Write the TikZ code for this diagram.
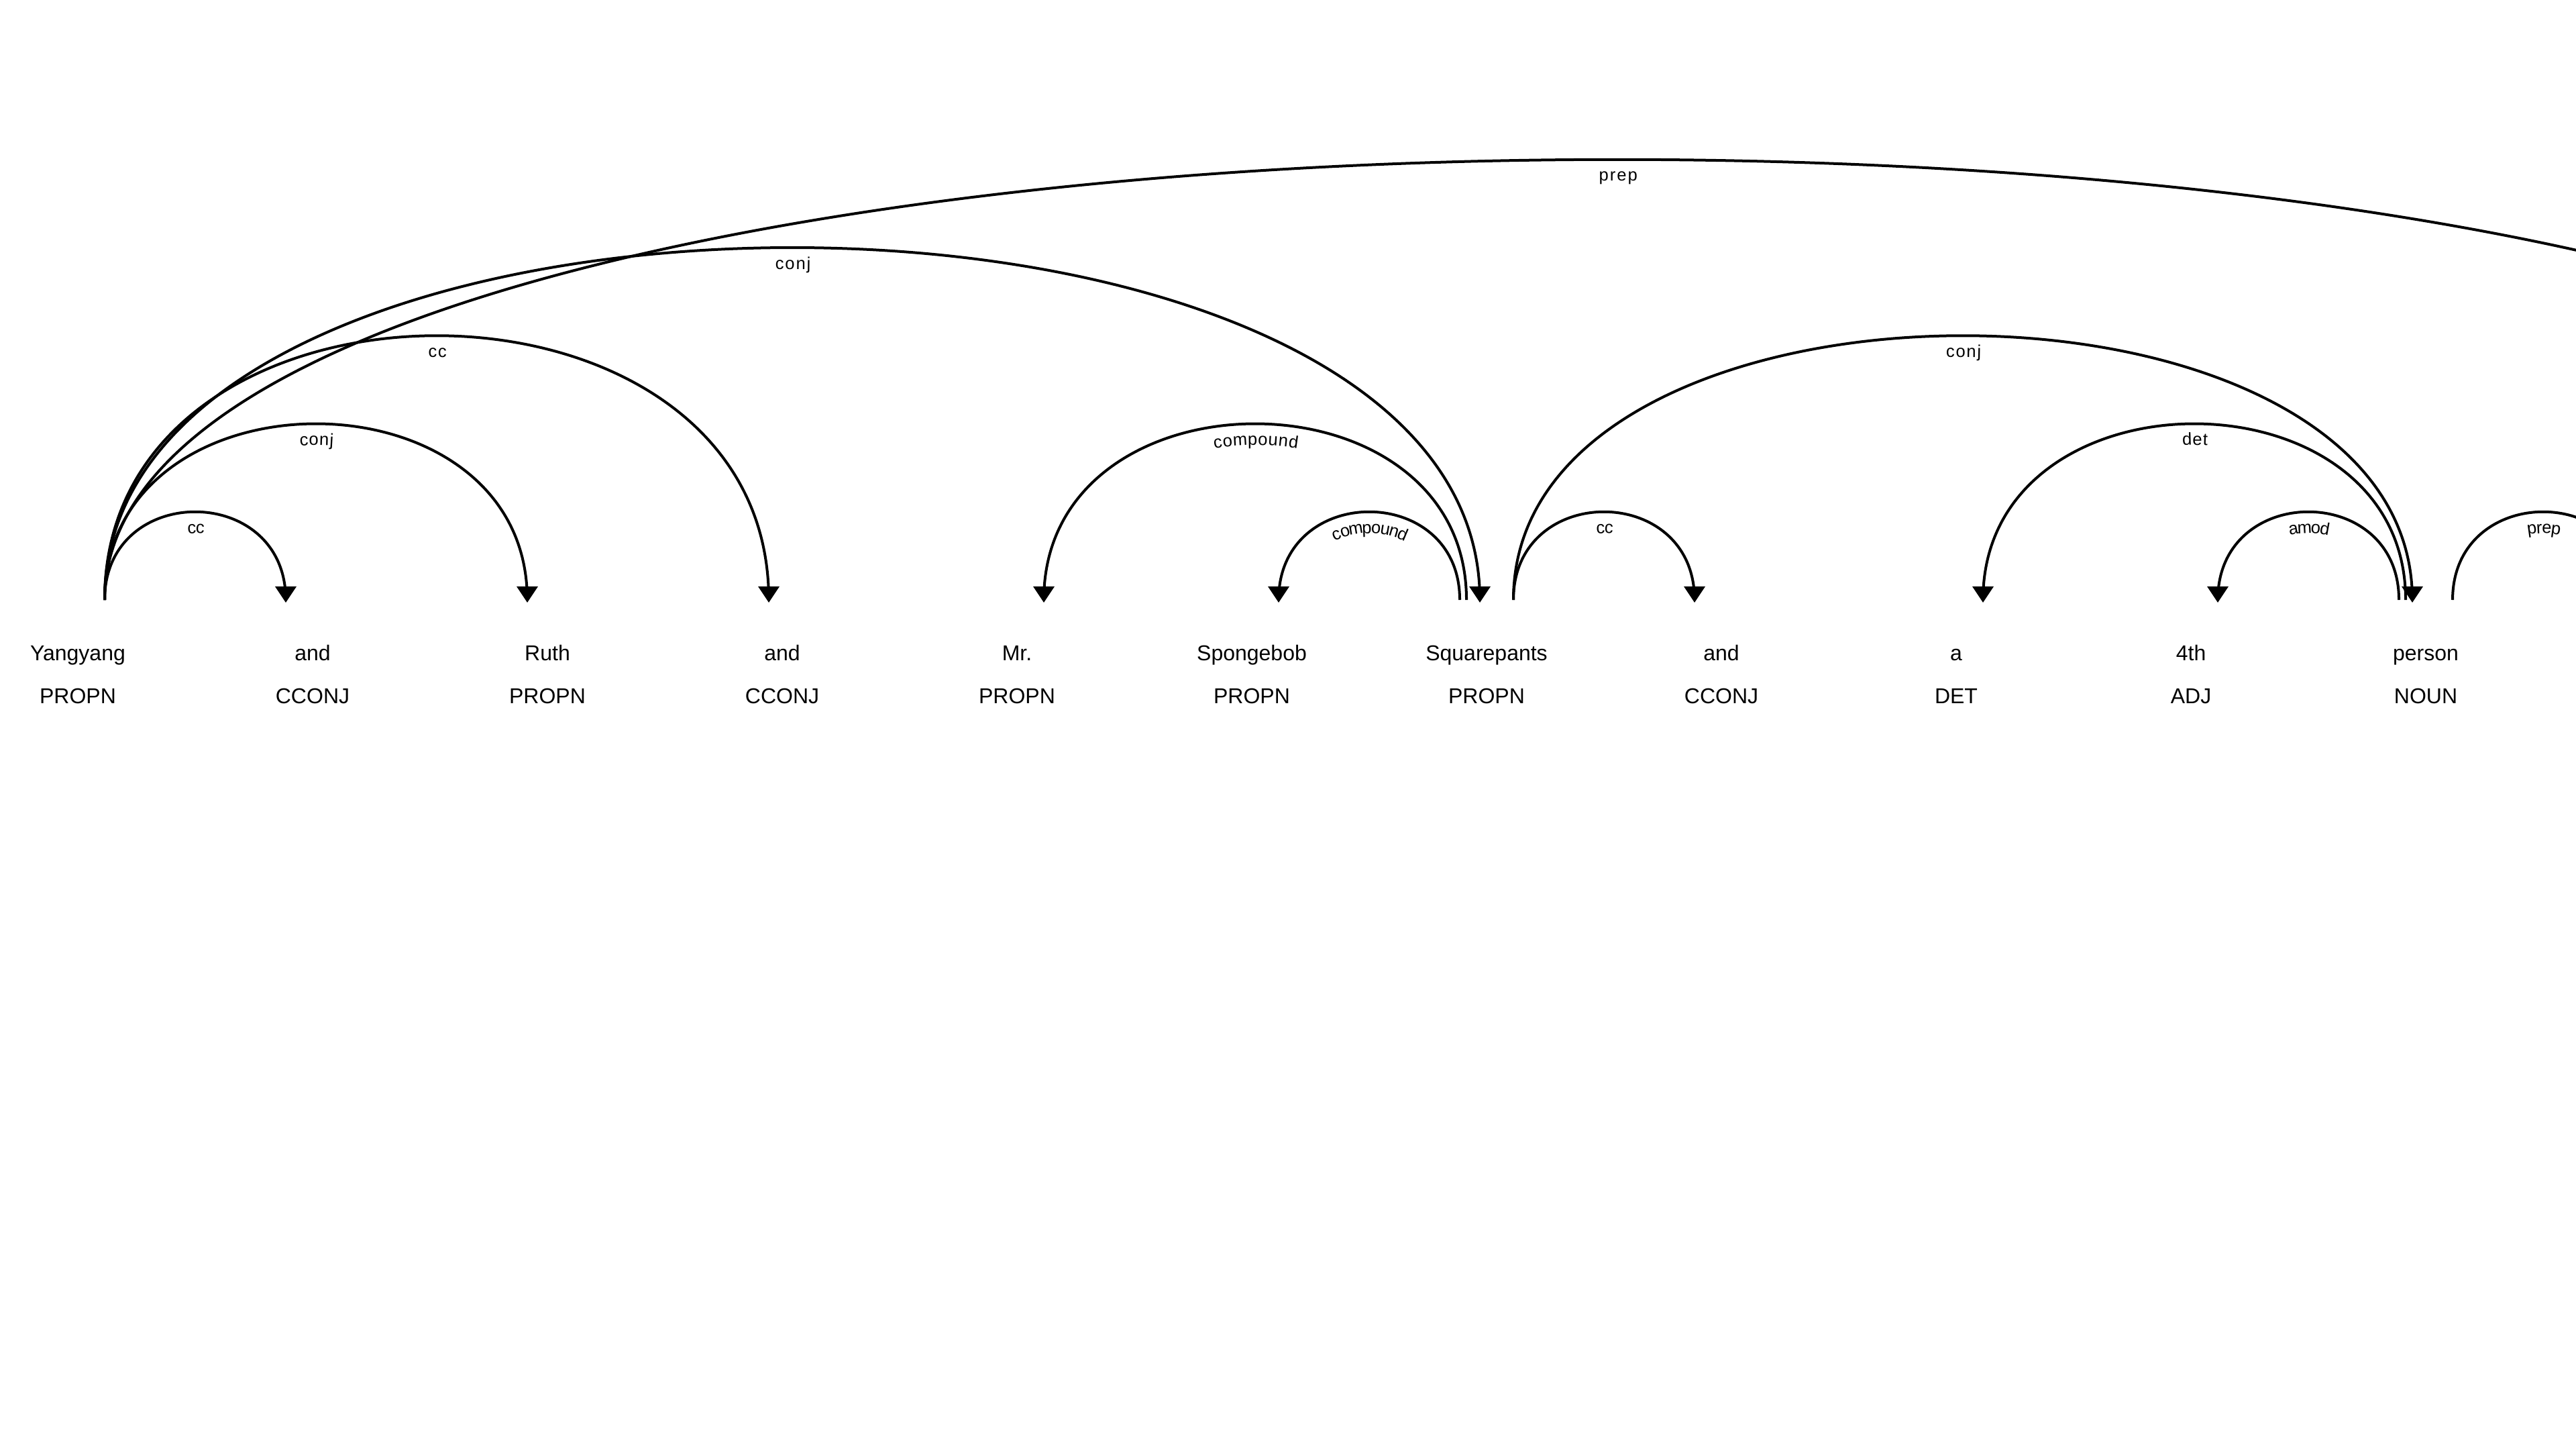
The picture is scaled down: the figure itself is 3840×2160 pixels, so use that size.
\documentclass[tikz,border=0pt]{standalone}
\usepackage{fontspec}
\setmainfont{Liberation Sans}
\usepackage{tikz}
\usetikzlibrary{calc,decorations.text}
\newcommand{\wordfont}{\fontsize{9.1pt}{11pt}\selectfont}
\newcommand{\lblfont}{\fontsize{7.28pt}{8.5pt}\selectfont}
\tikzstyle{parse} = [
  x=0.01cm,
  y=-0.01cm,
]
\tikzstyle{word} = [font=\wordfont, anchor=base, inner sep=0pt]
\tikzstyle{tag} = [font=\wordfont, anchor=base, inner sep=0pt]
\tikzstyle{arc} = [line width=0.04cm, black]

% one dependency arc: from word, to word, level, label, tip (as or ae)
\newcommand{\deparc}[5]{%
  \coordinate (as) at ($(p#1)+(40,0)$);
  \coordinate (ae) at ($(p#2)+({-10*(5-#3)},0)$);
  \draw[arc, postaction={decorate, decoration={text along path,
      text align=center, raise=-0.32cm, text={|\lblfont\kern0.57pt|#4}}}]
    (as) .. controls ($(as)+(0,{-175*#3})$) and ($(ae)+(0,{-175*#3})$) .. (ae);
  \fill ($(#5)+(0,4)$) -- ($(#5)+(16,-20)$) -- ($(#5)+(-16,-20)$) -- cycle;
}

\begin{document}
\begin{tikzpicture}[parse]
    \useasboundingbox (0,0) rectangle (3840,2160);
    \fill[white] (0,0) rectangle (3840,2160);
    \clip (0,0) rectangle (3840,2160);

    % Arc feet
    \foreach \i in {0,...,13}
        \coordinate (p\i) at (116+350*\i, 894);

    % Words and tags
    \foreach \i/\wrd/\tg in {0/Yangyang/PROPN, 1/and/CCONJ, 2/Ruth/PROPN,
        3/and/CCONJ, 4/Mr./PROPN, 5/Spongebob/PROPN, 6/Squarepants/PROPN,
        7/and/CCONJ, 8/a/DET, 9/4th/ADJ, 10/person/NOUN} {
        \node[word] (w\i) at ($(p\i)+(0,90)$) {\wrd};
        \node[tag] (t\i) at ($(w\i.base)+(0,64)$) {\tg};
    }

    % Arcs
    \deparc{0}{1}{1}{cc}{ae}
    \deparc{0}{2}{2}{conj}{ae}
    \deparc{0}{3}{3}{cc}{ae}
    \deparc{0}{6}{4}{conj}{ae}
    \deparc{0}{13}{5}{prep}{ae}
    \deparc{4}{6}{2}{compound}{as}
    \deparc{5}{6}{1}{compound}{as}
    \deparc{6}{7}{1}{cc}{ae}
    \deparc{6}{10}{3}{conj}{ae}
    \deparc{8}{10}{2}{det}{as}
    \deparc{9}{10}{1}{amod}{as}
    \deparc{10}{11}{1}{prep}{ae}
\end{tikzpicture}
\end{document}
